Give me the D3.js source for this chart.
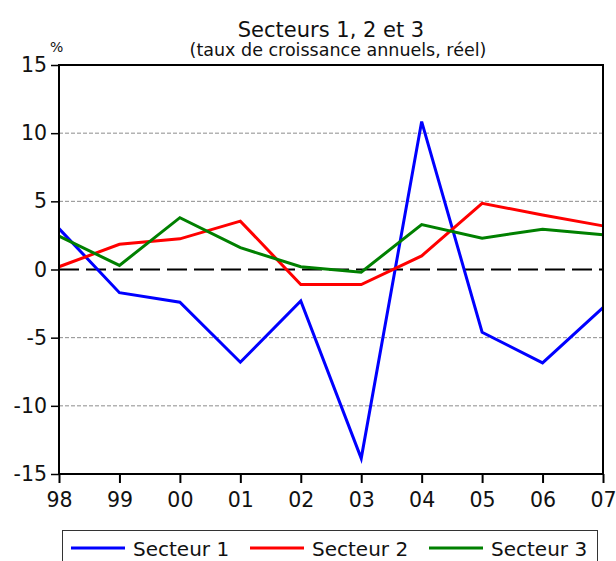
<!DOCTYPE html>
<html>
<head>
<meta charset="utf-8">
<script src="https://cdn.jsdelivr.net/npm/d3@7"></script>
<style>
  body { margin: 0; background: #fff; }
  svg text { font-family: "DejaVu Sans", Verdana, sans-serif; fill: #111; }
</style>
</head>
<body>
<div id="chart"></div>
<script>
// Secteurs 1, 2 et 3 - growth rates

var years = ["98", "99", "00", "01", "02", "03", "04", "05", "06", "07"];
var secteur1 = [3.0, -1.7, -2.4, -6.8, -2.3, -13.85, 10.85, -4.6, -6.85, -2.8];
var secteur2 = [0.2, 1.85, 2.25, 3.55, -1.1, -1.1, 1.0, 4.85, 4.0, 3.2];
var secteur3 = [2.45, 0.3, 3.8, 1.6, 0.2, -0.2, 3.3, 2.3, 2.95, 2.55];
var yTicks = [-15, -10, -5, 0, 5, 10, 15];
var gridTicks = [-10, -5, 5, 10];

var seriesNames = ["Secteur 1", "Secteur 2", "Secteur 3"];
var seriesColors = ["#0000ff", "#ff0000", "#008000"];
var allSeries = [secteur1, secteur2, secteur3];

var svgWidth = 616;
var svgHeight = 561;

var margin = { top: 65, right: 13, bottom: 87, left: 59 };
var width = svgWidth - margin.left - margin.right;
var height = svgHeight - margin.top - margin.bottom;

var svg = d3.select("#chart")
    .append("svg")
    .attr("width", svgWidth)
    .attr("height", svgHeight);

var chartGroup = svg.append("g")
    .attr("transform", `translate(${margin.left}, ${margin.top})`);

var xScale = d3.scalePoint()
    .domain(years)
    .range([0, width]);

var yScale = d3.scaleLinear()
    .domain([-15, 15])
    .range([height, 0]);

// grid lines
chartGroup.selectAll(".grid")
    .data(gridTicks)
    .enter()
    .append("line")
    .attr("x1", 0)
    .attr("x2", width)
    .attr("y1", d => yScale(d))
    .attr("y2", d => yScale(d))
    .attr("stroke", "#8c8c8c")
    .attr("stroke-width", 1)
    .attr("stroke-dasharray", "4,2");

// zero line
chartGroup.append("line")
    .attr("x1", 0)
    .attr("x2", width)
    .attr("y1", yScale(0))
    .attr("y2", yScale(0))
    .attr("stroke", "#000")
    .attr("stroke-width", 2)
    .attr("stroke-dasharray", "20,7");

// series lines
var line = d3.line()
    .x((d, i) => xScale(years[i]))
    .y(d => yScale(d));

allSeries.forEach(function(s, i) {
    chartGroup.append("path")
        .datum(s)
        .attr("fill", "none")
        .attr("stroke", seriesColors[i])
        .attr("stroke-width", 3)
        .attr("stroke-linejoin", "miter")
        .attr("d", line);
});

// frame
chartGroup.append("rect")
    .attr("x", 0)
    .attr("y", 0)
    .attr("width", width)
    .attr("height", height)
    .attr("fill", "none")
    .attr("stroke", "#000")
    .attr("stroke-width", 2);

// axes
var leftAxis = d3.axisLeft(yScale)
    .tickValues(yTicks)
    .tickSize(8)
    .tickPadding(4)
    .tickFormat(d => String(d));

var yAxis = chartGroup.append("g").call(leftAxis);
yAxis.select(".domain").remove();
yAxis.selectAll(".tick line").attr("stroke", "#000").attr("stroke-width", 1.5);
yAxis.selectAll("text")
    .style("font-size", "20.5px")
    .attr("fill", "#111");

var bottomAxis = d3.axisBottom(xScale)
    .tickSize(9)
    .tickPadding(9);

var xAxis = chartGroup.append("g")
    .attr("transform", `translate(0, ${height})`)
    .call(bottomAxis);
xAxis.select(".domain").remove();
xAxis.selectAll(".tick line").attr("stroke", "#000").attr("stroke-width", 2);
xAxis.selectAll("text")
    .style("font-size", "20.5px")
    .attr("fill", "#111");

// titles
svg.append("text")
    .attr("x", 331)
    .attr("y", 37)
    .attr("text-anchor", "middle")
    .style("font-size", "21px")
    .text("Secteurs 1, 2 et 3");

svg.append("text")
    .attr("x", 338)
    .attr("y", 56)
    .attr("text-anchor", "middle")
    .style("font-size", "17.5px")
    .text("(taux de croissance annuels, réel)");

svg.append("text")
    .attr("x", 50)
    .attr("y", 52)
    .style("font-size", "14px")
    .text("%");

// legend
var legend = svg.append("g");
legend.append("rect")
    .attr("x", 62.5)
    .attr("y", 530.5)
    .attr("width", 535)
    .attr("height", 40)
    .attr("fill", "#fff")
    .attr("stroke", "#333")
    .attr("stroke-width", 1);

var legendX = [71, 250, 429];
seriesNames.forEach(function(name, i) {
    legend.append("line")
        .attr("x1", legendX[i])
        .attr("x2", legendX[i] + 54)
        .attr("y1", 548)
        .attr("y2", 548)
        .attr("stroke", seriesColors[i])
        .attr("stroke-width", 3);
    legend.append("text")
        .attr("x", legendX[i] + 62)
        .attr("y", 556)
        .style("font-size", "20px")
        .text(name);
});
</script>
</body>
</html>
